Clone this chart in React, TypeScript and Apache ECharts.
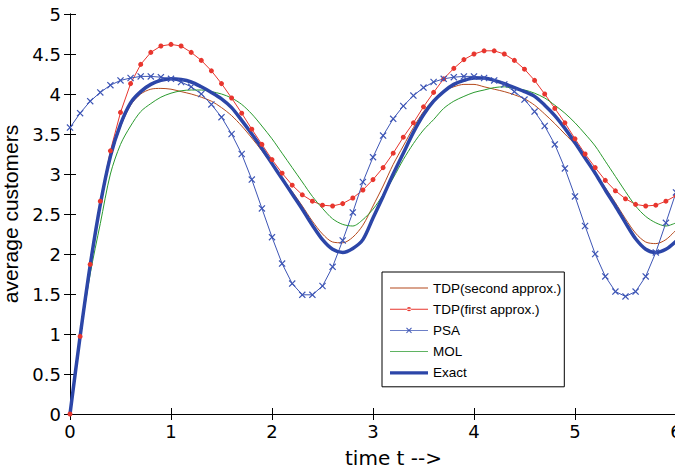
import React, { useEffect, useRef } from "react";
import * as echarts from "echarts";

const time = [
  0, 0.1, 0.2, 0.3, 0.4, 0.5, 0.6, 0.7, 0.8, 0.9,
  1, 1.1, 1.2, 1.3, 1.4, 1.5, 1.6, 1.7, 1.8, 1.9,
  2, 2.1, 2.2, 2.3, 2.4, 2.5, 2.6, 2.7, 2.8, 2.9,
  3, 3.1, 3.2, 3.3, 3.4, 3.5, 3.6, 3.7, 3.8, 3.9,
  4, 4.1, 4.2, 4.3, 4.4, 4.5, 4.6, 4.7, 4.8, 4.9,
  5, 5.1, 5.2, 5.3, 5.4, 5.5, 5.6, 5.7, 5.8, 5.9,
  6,
];

const tdpSecond = [
  0, 0.97, 1.86, 2.61, 3.2, 3.59, 3.86, 4.0, 4.06, 4.07,
  4.06, 4.03, 4.0, 3.96, 3.91, 3.83, 3.73, 3.6, 3.45, 3.29,
  3.12, 2.95, 2.78, 2.6, 2.41, 2.25, 2.15, 2.14, 2.21, 2.36,
  2.6, 2.85, 3.12, 3.35, 3.58, 3.78, 3.93, 4.04, 4.09, 4.12,
  4.12, 4.09, 4.06, 4.03, 3.99, 3.94, 3.86, 3.75, 3.63, 3.5,
  3.37, 3.2, 3.01, 2.83, 2.64, 2.44, 2.26, 2.15, 2.13, 2.18,
  2.3,
];

const tdpFirst = [
  0, 0.97, 1.87, 2.66, 3.29, 3.77, 4.13, 4.37, 4.52, 4.6,
  4.62, 4.6, 4.52, 4.42, 4.29, 4.13, 3.95, 3.76, 3.56, 3.37,
  3.18, 3.01, 2.86, 2.74, 2.66, 2.61, 2.6, 2.63, 2.7, 2.8,
  2.93, 3.08, 3.26, 3.46, 3.64, 3.84, 4.02, 4.19, 4.32, 4.43,
  4.5, 4.54, 4.54, 4.5, 4.42, 4.31, 4.17, 4.0, 3.82, 3.64,
  3.44, 3.25, 3.08, 2.92, 2.79, 2.69, 2.62, 2.6, 2.61, 2.66,
  2.73,
];

const psa = [
  3.58, 3.76, 3.91, 4.02, 4.11, 4.17, 4.2, 4.22, 4.22, 4.21,
  4.19, 4.15, 4.09, 4.0, 3.87, 3.71, 3.5, 3.25, 2.93, 2.57,
  2.21, 1.88, 1.63, 1.49, 1.49, 1.6, 1.84, 2.17, 2.52, 2.9,
  3.21, 3.48, 3.69, 3.85, 3.98, 4.08, 4.15, 4.19, 4.21, 4.22,
  4.22, 4.2, 4.17, 4.12, 4.03, 3.93, 3.78, 3.6, 3.37, 3.07,
  2.72, 2.35, 2.0, 1.72, 1.53, 1.47, 1.53, 1.72, 2.02, 2.39,
  2.77,
];

const mol = [
  0, 0.95, 1.75, 2.38, 3.0, 3.37, 3.6, 3.78, 3.88, 3.96,
  4.01, 4.04, 4.05, 4.05, 4.03, 4.0, 3.95, 3.87, 3.75, 3.6,
  3.44, 3.26, 3.08, 2.9, 2.72, 2.57, 2.44, 2.37, 2.35, 2.43,
  2.56, 2.74, 2.95, 3.18, 3.38, 3.55, 3.68, 3.82, 3.91, 3.97,
  4.02, 4.05, 4.08, 4.09, 4.07, 4.05, 4.01, 3.95, 3.86, 3.76,
  3.64, 3.5, 3.35, 3.16, 2.97, 2.78, 2.6, 2.47, 2.39, 2.35,
  2.39,
];

const exact = [
  0, 0.97, 1.86, 2.62, 3.22, 3.62, 3.89, 4.03, 4.12, 4.17,
  4.19, 4.18, 4.15, 4.09, 4.02, 3.94, 3.83, 3.67, 3.5, 3.32,
  3.13, 2.94, 2.75, 2.56, 2.36, 2.18, 2.06, 2.02, 2.07, 2.18,
  2.45, 2.72, 3.0, 3.26, 3.52, 3.74, 3.91, 4.03, 4.12, 4.17,
  4.2, 4.2, 4.17, 4.13, 4.08, 4.03, 3.97, 3.86, 3.73, 3.57,
  3.39, 3.2, 3.01, 2.8, 2.6, 2.39, 2.19, 2.06, 2.02, 2.06,
  2.16,
];

const seriesNames = ["TDP(second approx.)", "TDP(first approx.)", "PSA", "MOL", "Exact"];

const X_SYMBOL =
  "path://M0,1.2L1.2,0L5,3.8L8.8,0L10,1.2L6.2,5L10,8.8L8.8,10L5,6.2L1.2,10L0,8.8L3.8,5Z";

const ICON_THIN = "path://M0,0h40v1h-40z";
const ICON_THICK = "path://M0,0h40v3.5h-40z";
const ICON_DOT =
  "path://M0,1.75h40v1h-40zM17.75,2.25a2.25,2.25 0 1,0 4.5,0a2.25,2.25 0 1,0 -4.5,0z";
const ICON_X =
  "path://M0,2.5h40v1h-40zM17,0.72L17.72,0L20,2.28L22.28,0L23,0.72L20.72,3L23,5.28L22.28,6L20,3.72L17.72,6L17,5.28L19.28,3Z";
const legendIcons = [ICON_THIN, ICON_DOT, ICON_X, ICON_THIN, ICON_THICK];

const pair = (ys: number[]) => time.map((t, i) => [t, ys[i]]);

export default function App() {
  const ref = useRef<HTMLDivElement>(null);

  useEffect(() => {
    if (!ref.current) return;
    const chart = echarts.init(ref.current, null, { renderer: "svg" });
    const tickFont = { fontFamily: "DejaVu Sans", fontSize: 18, color: "#000" };
    const axisLine = { show: true, lineStyle: { color: "#000", width: 1 } };
    const tick = { show: true, inside: true, length: 6, lineStyle: { color: "#000", width: 1 } };

    chart.setOption({
      animation: false,
      backgroundColor: "#fff",
      grid: {
        left: 70,
        right: -1,
        top: 14,
        bottom: 57,
        containLabel: false,
        outerBoundsMode: "none",
      },
      legend: {
        orient: "vertical",
        left: 382,
        top: 272,
        data: seriesNames.map((name, i) => ({ name, icon: legendIcons[i] })),
        itemWidth: 38,
        itemHeight: 14,
        itemGap: 7.2,
        padding: [9, 3, 7, 8],
        borderColor: "#000",
        borderWidth: 1,
        backgroundColor: "#fff",
        symbolKeepAspect: true,
        textStyle: { fontFamily: "Liberation Sans", fontSize: 13.5, color: "#000" },
      },
      xAxis: [
        {
          type: "value",
          position: "bottom",
          min: 0,
          max: 6,
          interval: 1,
          axisLine,
          axisTick: tick,
          splitLine: { show: false },
          axisLabel: { ...tickFont, margin: 8 },
          name: "time t -->",
          nameLocation: "middle",
          nameGap: 34,
          nameTextStyle: {
            fontFamily: "DejaVu Sans",
            fontSize: 20,
            color: "#000",
            padding: [0, 0, 0, 41],
          },
        },
        {
          type: "value",
          position: "top",
          min: 0,
          max: 6,
          interval: 1,
          axisLine,
          axisTick: tick,
          splitLine: { show: false },
          axisLabel: { show: false },
        },
      ],
      yAxis: [
        {
          type: "value",
          position: "left",
          min: 0,
          max: 5,
          interval: 0.5,
          axisLine,
          axisTick: tick,
          splitLine: { show: false },
          axisLabel: { ...tickFont, margin: 9 },
          name: "average customers",
          nameLocation: "middle",
          nameRotate: 90,
          nameGap: 43,
          nameTextStyle: { fontFamily: "Liberation Sans", fontSize: 21, color: "#000" },
        },
        {
          type: "value",
          position: "right",
          min: 0,
          max: 5,
          interval: 0.5,
          axisLine,
          axisTick: tick,
          splitLine: { show: false },
          axisLabel: { show: false },
        },
      ],
      series: [
        {
          name: seriesNames[0],
          type: "line",
          data: pair(tdpSecond),
          smooth: 0.3,
          showSymbol: false,
          symbol: "none",
          lineStyle: { color: "#b4491c", width: 1 },
          itemStyle: { color: "#b4491c" },
        },
        {
          name: seriesNames[1],
          type: "line",
          data: pair(tdpFirst),
          symbol: "circle",
          symbolSize: 5,
          lineStyle: { color: "#e8362e", width: 1 },
          itemStyle: { color: "#e8362e" },
        },
        {
          name: seriesNames[2],
          type: "line",
          data: pair(psa),
          symbol: X_SYMBOL,
          symbolSize: 7,
          lineStyle: { color: "#3d55b5", width: 1 },
          itemStyle: { color: "#3d55b5" },
        },
        {
          name: seriesNames[3],
          type: "line",
          data: pair(mol),
          smooth: 0.3,
          showSymbol: false,
          symbol: "none",
          lineStyle: { color: "#2a9a2e", width: 1 },
          itemStyle: { color: "#2a9a2e" },
        },
        {
          name: seriesNames[4],
          type: "line",
          data: pair(exact),
          smooth: 0.3,
          showSymbol: false,
          symbol: "none",
          lineStyle: { color: "#2c46a8", width: 3.5 },
          itemStyle: { color: "#2c46a8" },
        },
      ],
    });
    return () => chart.dispose();
  }, []);

  return (
    <div
      ref={ref}
      style={{ position: "fixed", left: 0, top: 0, width: 675, height: 471, background: "#fff" }}
    />
  );
}
